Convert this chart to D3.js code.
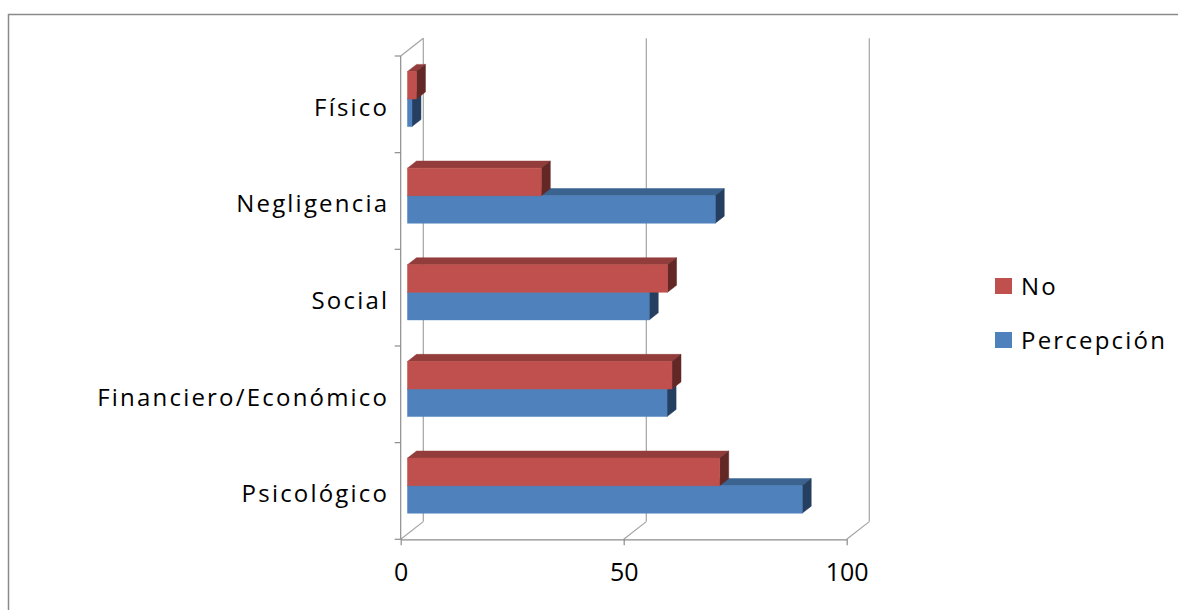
<!DOCTYPE html>
<html><head><meta charset="utf-8">
<script src="https://cdn.jsdelivr.net/npm/d3@7"></script>
<style>
html,body{margin:0;padding:0;background:#fff;}
svg{display:block;}
text{font-family:"Open Sans",sans-serif;fill:#000;}
</style></head>
<body><svg id="c" width="1178" height="610"></svg>
<script>
// Data (Excel order: first category at bottom)
const categories = ["Psicológico", "Financiero/Económico", "Social", "Negligencia", "Físico"];
const seriesNames = ["No", "Percepción"];
const valuesNo = [70, 59.3, 58.3, 30, 2];
const valuesPercepcion = [88.5, 58.2, 54.2, 69, 1];
const xTicks = [0, 50, 100];

const svg = d3.select("#c");

// outer chart border
svg.append("rect").attr("x", 8.5).attr("y", 14.5).attr("width", 1300).attr("height", 800)
  .attr("fill", "none").attr("stroke", "#8a8a8a").attr("stroke-width", 1.5);

const DX = 22.6, DY = -17.7; // full depth offset
const x = d3.scaleLinear().domain([0, 100]).range([400.7, 846.7]);
const y = d3.scaleBand().domain(categories.slice().reverse()).range([56, 539.3]);
const yTop = 56, yBot = 539.3;
const P = (v, yy, z) => [x(v) + z * DX, yy + z * DY];

const grid = svg.append("g").attr("stroke", "#a3a3a3").attr("stroke-width", 1.2).attr("fill", "none");
xTicks.forEach(t => {
  const a = P(t, yTop, 1), b = P(t, yBot, 1);
  grid.append("line").attr("x1", a[0]).attr("y1", a[1]).attr("x2", b[0]).attr("y2", b[1]);
  const c = P(t, yBot, 0), d = P(t, yBot, 1);
  grid.append("line").attr("x1", c[0]).attr("y1", c[1]).attr("x2", d[0]).attr("y2", d[1]);
});
{
  const a = P(0, yTop, 0), b = P(0, yTop, 1);
  grid.append("line").attr("x1", a[0]).attr("y1", a[1]).attr("x2", b[0]).attr("y2", b[1]);
}

// left axis (front)
const axL = svg.append("g").attr("stroke", "#8c8c8c").attr("stroke-width", 1.2);
axL.append("line").attr("x1", x(0)).attr("x2", x(0)).attr("y1", yTop).attr("y2", yBot);
const edges = categories.map(c => y(c)).concat([yBot]);
edges.forEach(e => axL.append("line").attr("x1", x(0) - 6).attr("x2", x(0)).attr("y1", e).attr("y2", e));

// category labels
const yAxis = d3.axisLeft(y).tickSize(0).tickPadding(11.5);
const gy = svg.append("g").attr("transform", `translate(${x(0)},0)`).call(yAxis);
gy.select(".domain").remove();
gy.selectAll("text").attr("font-family", "Open Sans").attr("font-size", 24)
  .attr("letter-spacing", "2.2px").attr("dy", "11.5").attr("fill", "#000");

// bottom axis
const xAxis = d3.axisBottom(x).tickValues(xTicks).tickSize(6).tickSizeOuter(0).tickPadding(17.5);
const gx = svg.append("g").attr("transform", `translate(0,${yBot})`).call(xAxis);
gx.select(".domain").attr("stroke", "#8c8c8c").attr("stroke-width", 1.2);
gx.selectAll(".tick line").attr("stroke", "#8c8c8c").attr("stroke-width", 1.2);
gx.selectAll("text").attr("font-family", "Open Sans").attr("font-size", 25).attr("fill", "#000");

// bars
const colors = {
  "No": {front: "#C0504D", top: "#923D3B", side: "#632826"},
  "Percepción": {front: "#4F81BD", top: "#3B6390", side: "#253F60"}
};
const seriesVals = {"No": valuesNo, "Percepción": valuesPercepcion};
const barFrac = 0.57;
const inner = d3.scaleBand().domain(seriesNames).range([0, y.bandwidth() * barFrac]);
const z0 = 0.3, z1 = 0.7;
const poly = pts => pts.map(p => p.join(",")).join(" ");

const barsG = svg.append("g");
categories.forEach((cat, i) => {
  const center = y(cat) + y.bandwidth() / 2;
  const start = center - y.bandwidth() * barFrac / 2;
  ["Percepción", "No"].forEach(s => {
    const v = seriesVals[s][i];
    const t = start + inner(s), b = t + inner.bandwidth();
    const col = colors[s];
    const g = barsG.append("g");
    g.append("polygon").attr("points", poly([P(0, t, z0), P(v, t, z0), P(v, t, z1), P(0, t, z1)]))
      .attr("fill", col.top).attr("stroke", col.top).attr("stroke-width", 0.5);
    g.append("polygon").attr("points", poly([P(v, t, z0), P(v, b, z0), P(v, b, z1), P(v, t, z1)]))
      .attr("fill", col.side).attr("stroke", col.side).attr("stroke-width", 0.5);
    g.append("polygon").attr("points", poly([P(0, t, z0), P(v, t, z0), P(v, b, z0), P(0, b, z0)]))
      .attr("fill", col.front).attr("stroke", col.front).attr("stroke-width", 0.5);
  });
});

// legend
const leg = svg.append("g");
seriesNames.forEach((s, i) => {
  const yy = 278 + i * 54;
  leg.append("rect").attr("x", 995).attr("y", yy).attr("width", 17).attr("height", 16).attr("fill", colors[s].front);
  leg.append("text").attr("x", 1021).attr("y", yy + 17).attr("font-size", 24).attr("letter-spacing", "2.2px").text(s);
});
</script></body></html>
